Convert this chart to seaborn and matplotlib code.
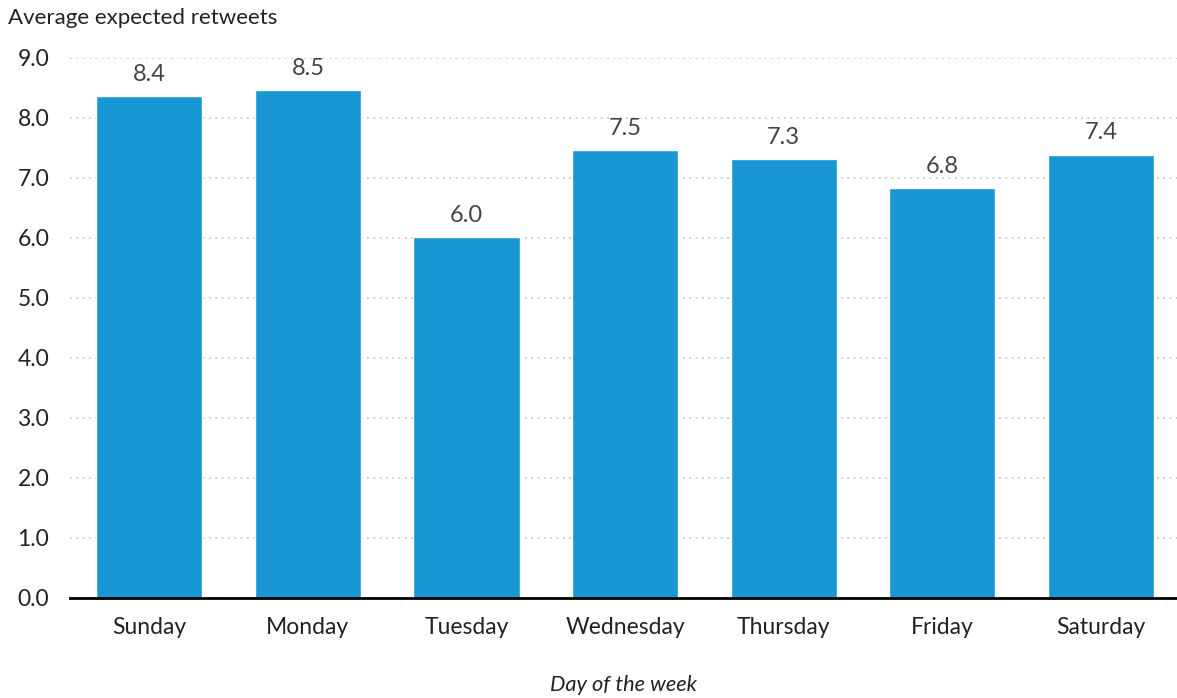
import matplotlib
matplotlib.use("Agg")
import matplotlib.pyplot as plt
import seaborn as sns
import pandas as pd

days = ["Sunday", "Monday", "Tuesday", "Wednesday", "Thursday", "Friday", "Saturday"]
avg_retweets = [8.36, 8.47, 6.02, 7.46, 7.32, 6.83, 7.39]
y_ticks = [0, 1, 2, 3, 4, 5, 6, 7, 8, 9]

sns.set_theme(style="white")
plt.rcParams["font.family"] = ["Lato", "DejaVu Sans"]

df = pd.DataFrame({"day": days, "value": avg_retweets})

W, H = 1177, 698
fig = plt.figure(figsize=(W / 100, H / 100), dpi=100)
ax = fig.add_axes([70 / W, 100 / H, (W - 70) / W, 540 / H])

sns.barplot(data=df, x="day", y="value", color="#1897D4", width=0.67,
            saturation=1, ax=ax, zorder=3)

ax.set_ylim(0, 9)
ax.set_xlim(-0.5, 6.48)
ax.set_yticks(y_ticks)
ax.set_yticklabels([f"{t:.1f}" for t in y_ticks])
ax.yaxis.grid(True, linestyle=(0, (1, 2.5)), color="#c8c8c8", linewidth=1.3, zorder=0)
ax.xaxis.grid(False)

for s in ["top", "right", "left"]:
    ax.spines[s].set_visible(False)
ax.spines["bottom"].set_color("black")
ax.spines["bottom"].set_linewidth(2)
ax.spines["bottom"].set_zorder(5)

ax.tick_params(axis="y", length=0, labelsize=16.5, labelcolor="#222222", pad=15)
ax.tick_params(axis="x", length=0, labelsize=16.5, labelcolor="#222222", pad=14)

for i, v in enumerate(avg_retweets):
    ax.annotate(f"{v:.1f}", (i, v), xytext=(0, 8), textcoords="offset points",
                ha="center", va="bottom", fontsize=17, color="#444444")

ax.set_ylabel("")
ax.set_xlabel("Day of the week", fontsize=15.7, style="italic", color="#222222",
              labelpad=26)
fig.text(8 / W, 1 - 18 / H, "Average expected retweets", fontsize=16,
         color="#222222", ha="left", va="center")

fig.savefig("out.png", dpi=100)
